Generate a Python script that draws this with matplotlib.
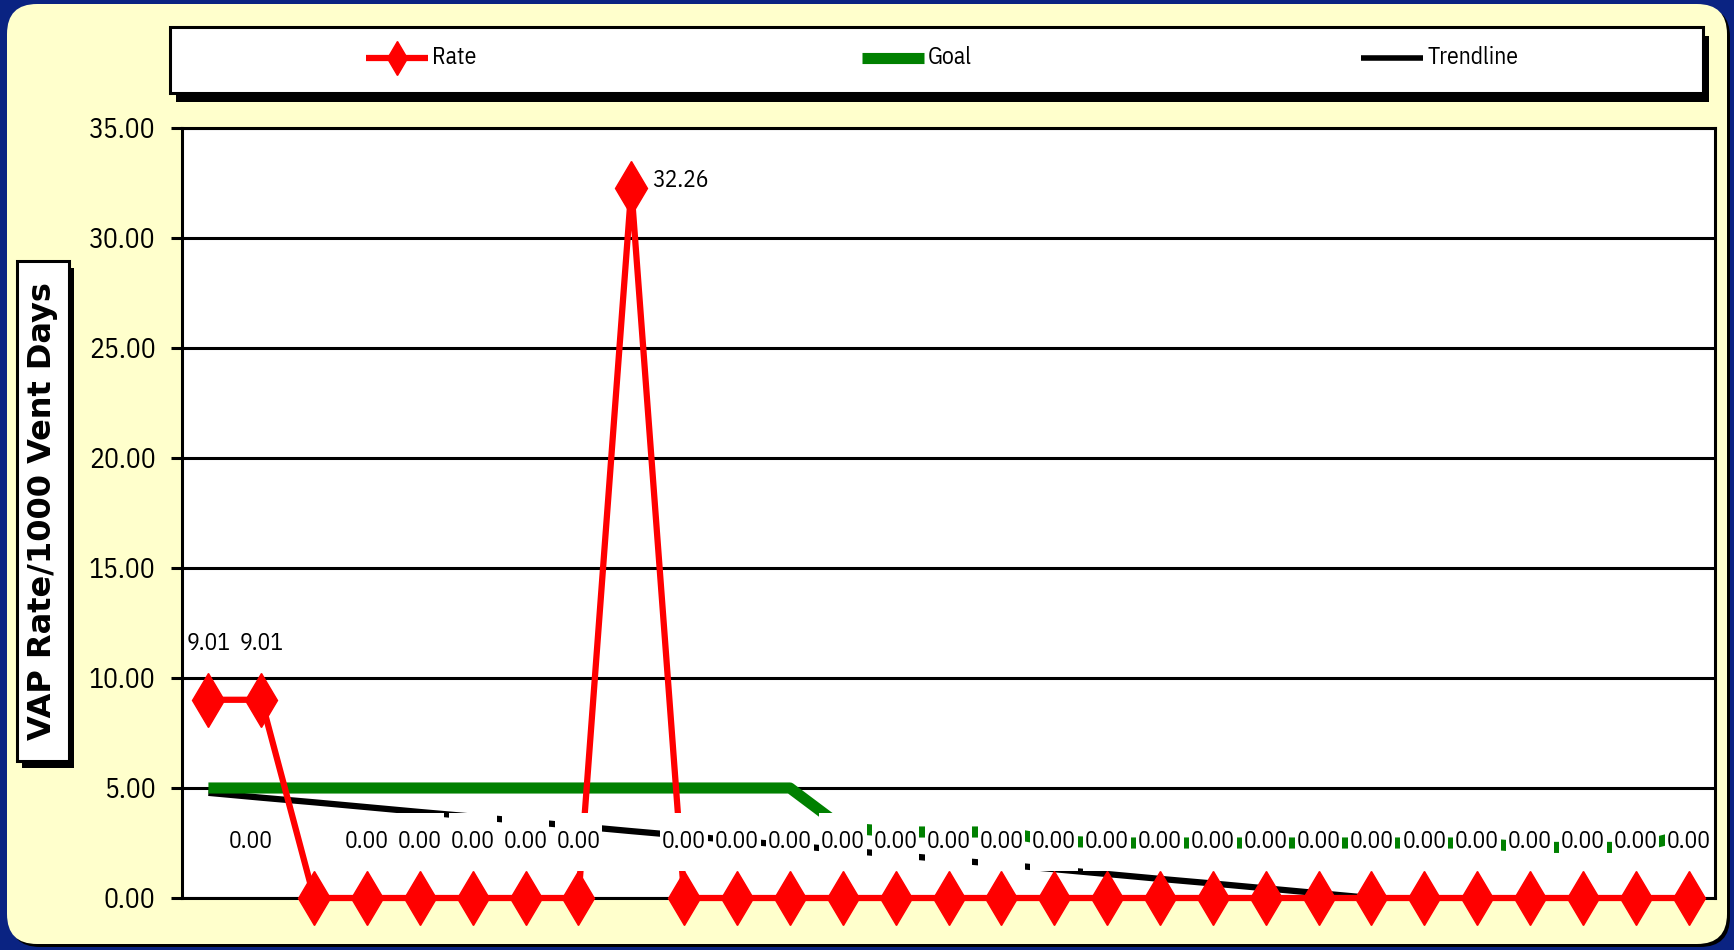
import matplotlib.pyplot as plt
from matplotlib.patches import FancyBboxPatch, Rectangle
from matplotlib.lines import Line2D
from matplotlib.transforms import IdentityTransform

# monthly VAP rate per 1000 vent days, the goal and the fitted trend
rate = [9.01, 9.01, 0.00, 0.00, 0.00, 0.00, 0.00, 0.00, 32.26, 0.00,
        0.00, 0.00, 0.00, 0.00, 0.00, 0.00, 0.00, 0.00, 0.00, 0.00,
        0.00, 0.00, 0.00, 0.00, 0.00, 0.00, 0.00, 0.00, 0.00]
goal = [5.0, 5.0, 5.0, 5.0, 5.0, 5.0, 5.0, 5.0, 5.0, 5.0,
        5.0, 5.0, 3.2, 3.0, 3.0, 3.0, 2.6, 2.5, 2.5, 2.5,
        2.5, 2.5, 2.5, 2.5, 2.5, 2.3, 2.3, 2.3, 2.9]
trend = [4.78, 4.56, 4.35, 4.13, 3.91, 3.70, 3.48, 3.26, 3.04, 2.83,
         2.61, 2.39, 2.18, 1.96, 1.74, 1.53, 1.31, 1.09, 0.87, 0.66,
         0.44, 0.22, 0.00]
series_names = ['Rate', 'Goal', 'Trendline']
y_ticks = [0, 5, 10, 15, 20, 25, 30, 35]

W, H = 1734, 950
NAVY = '#0a2382'
PANEL = '#FFFFCC'
RED = '#FF0000'
GREEN = '#008000'
NARROW = ['Liberation Sans Narrow', 'IBM Plex Sans Condensed', 'DejaVu Sans']

# label placement: lift above the point, a few nudged by hand
LIFT = 2.55
nudge_x = {2: -1.2, 8: 0.92}
lift_y = {8: 0.36}

fig = plt.figure(figsize=(W / 100, H / 100), dpi=100, facecolor=NAVY)
px = IdentityTransform()

# rounded yellow panel with a thin black shadow
fig.add_artist(FancyBboxPatch((10, 3), 1720, 940, boxstyle='round,pad=0,rounding_size=30',
                              transform=px, fc='black', ec='none', zorder=-3))
fig.add_artist(FancyBboxPatch((7, 6), 1720, 940, boxstyle='round,pad=0,rounding_size=30',
                              transform=px, fc=PANEL, ec='none', zorder=-2))

ax = fig.add_axes([182 / W, 1 - 898 / H, (1715 - 182) / W, (898 - 128) / H])
ax.set_facecolor('white')
x = list(range(len(rate)))

ax.plot(range(len(trend)), trend, color='black', lw=4.5, zorder=2, solid_capstyle='butt')
ax.plot(x, goal, color=GREEN, lw=8, zorder=2.5, solid_capstyle='butt')
ax.plot(x, rate, color=RED, lw=4.5, zorder=3, clip_on=False)

# data labels sit on white boxes that cover the lines behind them
for i, v in enumerate(rate):
    cx = i + nudge_x.get(i, 0)
    cy = v + lift_y.get(i, LIFT)
    ax.add_patch(Rectangle((cx - 0.45, cy - 1.3), 0.9, 2.6, fc='white', ec='none', zorder=4))
    ax.text(cx, cy, f'{v:.2f}', ha='center', va='center', fontsize=17,
            family=NARROW, zorder=6)

ax.plot(x, rate, ls='none', marker='d', ms=27, mfc=RED, mec=RED, zorder=5, clip_on=False)

ax.set_xlim(-0.5, len(rate) - 0.5)
ax.set_ylim(0, 35)
ax.set_xticks([])
ax.set_yticks(y_ticks)
ax.set_yticklabels([f'{t:.2f}' for t in y_ticks], family=NARROW, fontsize=20)
ax.tick_params(axis='y', length=8, width=2.2, pad=11, color='black')
ax.yaxis.grid(True, color='black', lw=2.2)
ax.set_axisbelow(True)
for s in ax.spines.values():
    s.set_color('black')
    s.set_linewidth(2.2)

# legend strip across the top
fig.add_artist(Rectangle((176, 848), 1533, 66, transform=px, fc='black', ec='none', zorder=1))
fig.add_artist(Rectangle((170, 857), 1533, 66, transform=px, fc='white', ec='black', lw=2.2, zorder=2))
ly = 892
handle_x = [366, 862, 1361]
styles = [dict(color=RED, lw=4.5), dict(color=GREEN, lw=8), dict(color='black', lw=4)]
for name, hx, st in zip(series_names, handle_x, styles):
    fig.add_artist(Line2D([hx, hx + 62], [ly, ly], transform=px, zorder=3,
                          solid_capstyle='butt', **st))
    fig.text(hx + 66, ly, name, transform=px, ha='left', va='center',
             fontsize=17, family=NARROW, zorder=3)
fig.add_artist(Line2D([397], [ly], transform=px, ls='none', marker='d', ms=17,
                      mfc=RED, mec=RED, zorder=4))

# boxed y-axis title
fig.add_artist(Rectangle((22, 182), 52, 500, transform=px, fc='black', ec='none', zorder=1))
fig.add_artist(Rectangle((17, 189), 52, 500, transform=px, fc='white', ec='black', lw=2.2, zorder=2))
fig.text(43, 439, 'VAP Rate/1000 Vent Days', transform=px, rotation=90, ha='center',
         va='center', fontsize=23, fontweight='bold', family='DejaVu Sans', zorder=3)

fig.savefig('out.png', dpi=100, facecolor=NAVY)
